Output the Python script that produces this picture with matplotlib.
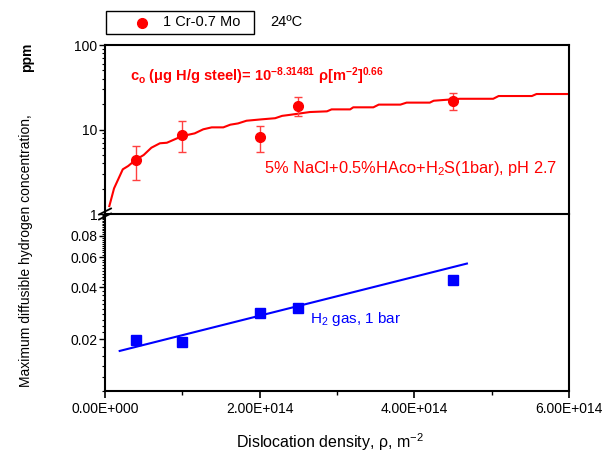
import numpy as np
import matplotlib
matplotlib.use("Agg")
import matplotlib.pyplot as plt
from matplotlib.ticker import FixedLocator, FixedFormatter, LogLocator, NullFormatter, NullLocator
from matplotlib.patches import Rectangle
from matplotlib.lines import Line2D

plt.rcParams['font.family'] = ['Liberation Sans', 'DejaVu Sans']
plt.rcParams['mathtext.fontset'] = 'custom'
plt.rcParams['mathtext.rm'] = 'Liberation Sans'
plt.rcParams['mathtext.it'] = 'Liberation Sans:italic'
plt.rcParams['mathtext.bf'] = 'Liberation Sans:bold'

# dislocation density of the samples, m^-2
rho = np.array([0.40e14, 1.00e14, 2.01e14, 2.50e14, 4.50e14])

# H2S charging (ppm) with error limits
c_h2s = [4.4, 8.6, 8.2, 19.0, 21.9]
c_h2s_hi = [6.4, 12.7, 11.1, 24.4, 26.8]
c_h2s_lo = [2.5, 5.4, 5.4, 14.4, 17.0]

# fitted curve as drawn (stepped)
fit_rho = np.array([0.056, 0.117, 0.23, 0.30, 0.40, 0.50, 0.60, 0.71, 0.80, 1.00, 1.16,
                    1.27, 1.38, 1.53, 1.62, 1.72, 1.83, 2.03, 2.20, 2.29, 2.39, 2.65,
                    2.87, 2.93, 3.17, 3.21, 3.47, 3.54, 3.82, 3.90, 4.20, 4.25, 4.59,
                    5.02, 5.09, 5.52, 5.58, 6.00]) * 1e14
fit_c = [1.24, 2.01, 3.38, 3.70, 4.4, 4.99, 6.09, 6.87, 6.97, 8.37, 9.0,
         10.05, 10.6, 10.6, 11.4, 11.8, 12.7, 13.2, 13.6, 14.5, 14.9, 16.1,
         16.4, 17.3, 17.3, 18.3, 18.3, 19.7, 19.7, 20.8, 20.8, 21.9, 23.1,
         23.1, 24.9, 24.9, 26.3, 26.3]

# H2 gas charging (ppm) and linear fit ends
c_h2 = [0.0198, 0.0193, 0.0284, 0.0302, 0.0445]
h2_fit_rho = [0.19e14, 4.68e14]
h2_fit_c = [0.0171, 0.0551]

x_ticks = [0, 2e14, 4e14, 6e14]
x_labels = ['0.00E+000', '2.00E+014', '4.00E+014', '6.00E+014']

W, H = 608, 457
fig = plt.figure(figsize=(W / 100, H / 100), dpi=100)
ax1 = fig.add_axes([105 / W, 1 - 214 / H, 464 / W, 169 / H])
ax2 = fig.add_axes([105 / W, 1 - 391 / H, 464 / W, 177 / H])

RED = '#ff0000'
BLUE = '#0000ff'

# top panel
ax1.plot(fit_rho, fit_c, color=RED, lw=1.5, zorder=2)
yerr = [np.array(c_h2s) - np.array(c_h2s_lo), np.array(c_h2s_hi) - np.array(c_h2s)]
ax1.errorbar(rho, c_h2s, yerr=yerr, fmt='o', color=RED, ms=7, ecolor='#ff4040',
             elinewidth=1, capsize=3, capthick=1, zorder=3)
ax1.set_yscale('log')
ax1.set_ylim(1, 100)
ax1.set_xlim(0, 6e14)
ax1.yaxis.set_major_locator(FixedLocator([1, 10, 100]))
ax1.yaxis.set_major_formatter(FixedFormatter(['1', '10', '100']))
ax1.yaxis.set_minor_locator(LogLocator(base=10, subs=np.arange(2, 10)))
ax1.yaxis.set_minor_formatter(NullFormatter())
ax1.xaxis.set_major_locator(NullLocator())
ax1.xaxis.set_minor_locator(NullLocator())

ax1.text(130 / W, 1 - 76 / H,
         r'c$_{\mathbf{o}}$ ($\mathbf{\mu}$g H/g steel)= 10$^{\mathbf{-8.31481}}$ ρ[m$^{\mathbf{-2}}$]$^{\mathbf{0.66}}$',
         transform=fig.transFigure, color=RED, fontsize=10.5, fontweight='bold', va='center')
ax1.text(264 / W, 1 - 169 / H, r'5% NaCl+0.5%HAco+H$_2$S(1bar), pH 2.7',
         transform=fig.transFigure, color=RED, fontsize=11.8, va='center')

# bottom panel
ax2.plot(h2_fit_rho, h2_fit_c, color=BLUE, lw=1.5)
ax2.plot(rho, c_h2, 's', color=BLUE, ms=7)
ax2.set_yscale('log')
ax2.set_ylim(0.01, 0.107)
ax2.set_xlim(0, 6e14)
ax2.yaxis.set_major_locator(FixedLocator([0.02, 0.04, 0.06, 0.08]))
ax2.yaxis.set_major_formatter(FixedFormatter(['0.02', '0.04', '0.06', '0.08']))
minor_y = [v for v in np.arange(0.010, 0.1065, 0.002) if round(v, 3) not in (0.02, 0.04, 0.06, 0.08)]
ax2.yaxis.set_minor_locator(FixedLocator(minor_y))
ax2.yaxis.set_minor_formatter(NullFormatter())
ax2.xaxis.set_major_locator(FixedLocator(x_ticks))
ax2.xaxis.set_major_formatter(FixedFormatter(x_labels))
ax2.xaxis.set_minor_locator(FixedLocator([1e14, 3e14, 5e14]))
ax2.spines['top'].set_visible(False)
ax2.text(310 / W, 1 - 319 / H, r'H$_2$ gas, 1 bar', transform=fig.transFigure,
         color=BLUE, fontsize=11, va='center')

for ax in (ax1, ax2):
    for s in ax.spines.values():
        s.set_linewidth(1.5)
    ax.tick_params(axis='y', which='major', direction='out', length=4, width=1, labelsize=10, pad=1.5)
    ax.tick_params(axis='y', which='minor', direction='out', length=2, width=0.8)
    ax.tick_params(axis='x', which='major', direction='out', length=5, width=1.2, labelsize=10, pad=3)
    ax.tick_params(axis='x', which='minor', direction='out', length=3, width=1)
    ax.patch.set_alpha(0)

# axis break marks
for dy in (-2.5, 2.5):
    fig.add_artist(Line2D([99 / W, 111 / W], [1 - (217 + dy) / H, 1 - (211 + dy) / H],
                          color='black', lw=1.3, transform=fig.transFigure))

# legend box
fig.add_artist(Rectangle((106 / W, 1 - 34 / H), 148 / W, 23 / H, transform=fig.transFigure,
                         fill=False, ec='black', lw=1))
fig.add_artist(Line2D([142 / W], [1 - 22.5 / H], marker='o', ms=7, color=RED, ls='none',
                      transform=fig.transFigure))
fig.text(163 / W, 1 - 22.5 / H, '1 Cr-0.7 Mo', fontsize=10.5, va='center')
fig.text(270 / W, 1 - 22.5 / H, '24ºC', fontsize=10.5, va='center')

# axis labels
fig.text(26 / W, 1 - 387 / H, 'Maximum diffusible hydrogen concentration,', rotation=90,
         ha='center', va='bottom', fontsize=10)
fig.text(27 / W, 1 - 43 / H, 'ppm', rotation=90, ha='center', va='top',
         fontsize=10, fontweight='bold')
fig.text(330 / W, 1 - 442 / H, r'Dislocation density, ρ, m$^{-2}$', ha='center', va='center',
         fontsize=11.5)

fig.savefig('out.png', dpi=100)
